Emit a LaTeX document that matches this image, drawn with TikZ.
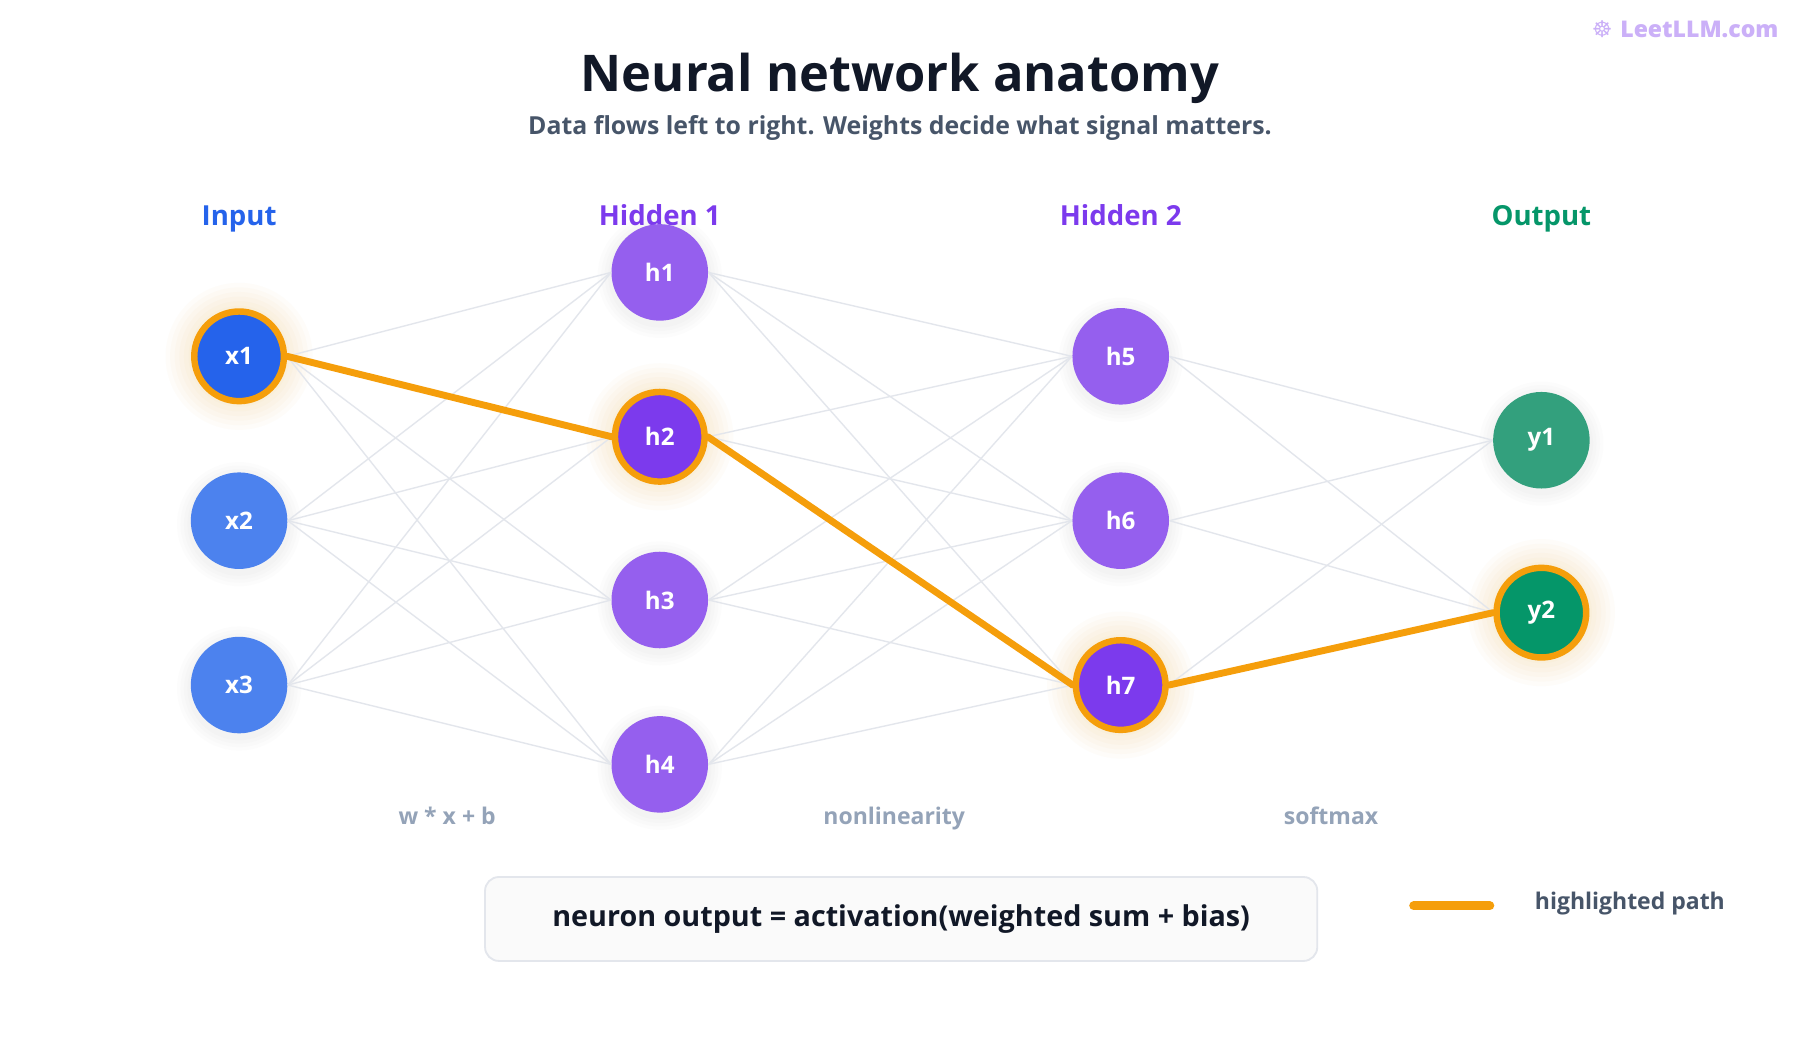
\documentclass[tikz,border=0pt]{standalone}
\usepackage{fontspec}
\setmainfont{Open Sans}[BoldFont={Open Sans Bold}]
\definecolor{edge}{HTML}{E3E6EC}
\definecolor{hl}{HTML}{F59E0B}
\definecolor{inA}{HTML}{2563EB}
\definecolor{inB}{HTML}{4C82EE}
\definecolor{hA}{HTML}{7C3AED}
\definecolor{hB}{HTML}{955FEE}
\definecolor{oA}{HTML}{059669}
\definecolor{oB}{HTML}{33A07D}
\definecolor{title}{HTML}{111827}
\definecolor{sub}{HTML}{475569}
\definecolor{muted}{HTML}{94A3B8}
\begin{document}
\begin{tikzpicture}[x=0.5pt,y=-0.5pt,
  nn/.style={circle,minimum size=42pt,inner sep=0pt,text=white,font=\fontsize{10.5}{12}\selectfont\bfseries},
  hi/.style={draw=hl,line width=2.8pt,minimum size=39pt},
  e/.style={draw=edge,line width=0.6pt},
  hp/.style={draw=hl,line width=3pt,line cap=round},
  lay/.style={font=\fontsize{12}{14}\selectfont\bfseries,anchor=base},
  ml/.style={font=\fontsize{10}{12}\selectfont\bfseries,text=muted,anchor=base}]
\useasboundingbox (0,0) rectangle (1566,903);
\fill[white] (0,0) rectangle (1566,903);
% glows and soft shadows
\foreach \p in {(208,310),(574,380),(975,596),(1341,533)}{
  \foreach \r in {64,60,...,44}{\fill[hl,opacity=0.025] \p circle (\r);}}
\foreach \p in {(208,453),(208,596),(574,237),(574,522),(574,665),(975,310),(975,453),(1341,383)}{
  \foreach \r in {54,51,...,43}{\fill[gray,opacity=0.02] \p ++(0,3) circle (\r);}}
\node[font=\fontsize{22}{26}\selectfont\bfseries,text=title,anchor=base] (t) at (783,80) {Neural network anatomy};
\node[font=\fontsize{10.8}{13}\selectfont\bfseries,text=sub,anchor=base] (st) at (783,117) {Data flows left to right. Weights decide what signal matters.};
\node[font=\fontsize{10}{12}\selectfont\bfseries,text=hA!40,anchor=base] (wm) at (1466,33) {\fontspec{DejaVu Sans}☸\ \fontspec{Open Sans Bold}LeetLLM.com};
\node[lay,text=inA] (L1) at (208,196) {Input};
\node[lay,text=hA] (L2) at (574,196) {Hidden 1};
\node[lay,text=hA] (L3) at (975,196) {Hidden 2};
\node[lay,text=oA] (L4) at (1341,196) {Output};
\node[nn,fill=inA,hi] (x1) at (208,310) {x1};
\node[nn,fill=inB] (x2) at (208,453) {x2};
\node[nn,fill=inB] (x3) at (208,596) {x3};
\node[nn,fill=hB] (h1) at (574,237) {h1};
\node[nn,fill=hA,hi] (h2) at (574,380) {h2};
\node[nn,fill=hB] (h3) at (574,522) {h3};
\node[nn,fill=hB] (h4) at (574,665) {h4};
\node[nn,fill=hB] (h5) at (975,310) {h5};
\node[nn,fill=hB] (h6) at (975,453) {h6};
\node[nn,fill=hA,hi] (h7) at (975,596) {h7};
\node[nn,fill=oB] (y1) at (1341,383) {y1};
\node[nn,fill=oA,hi] (y2) at (1341,533) {y2};
\foreach \a in {x1,x2,x3}{\foreach \b in {h1,h2,h3,h4}{\draw[e] (\a.east) -- (\b.west);}}
\foreach \a in {h1,h2,h3,h4}{\foreach \b in {h5,h6,h7}{\draw[e] (\a.east) -- (\b.west);}}
\foreach \a in {h5,h6,h7}{\foreach \b in {y1,y2}{\draw[e] (\a.east) -- (\b.west);}}
\draw[hp] (x1.east) -- (h2.west);
\draw[hp] (h2.east) -- (h7.west);
\draw[hp] (h7.east) -- (y2.west);
\node[ml] (m1) at (389,717) {w * x + b};
\node[ml] (m2) at (778,717) {nonlinearity};
\node[ml] (m3) at (1158,717) {softmax};
\node[draw=edge,fill=gray!4,rounded corners=6pt,line width=0.8pt,minimum width=362pt,minimum height=36.5pt,font=\fontsize{12.5}{15}\selectfont\bfseries,text=title] (box) at (784,799.5) {neuron output = activation(weighted sum + bias)};
\coordinate (la) at (1230,788);
\coordinate (lb) at (1296,788);
\draw[hl,line width=4pt,line cap=round] (la) -- (lb);
\node[font=\fontsize{10}{12}\selectfont\bfseries,text=sub] (lt) at (1418,786) {highlighted path};
\end{tikzpicture}
\end{document}
